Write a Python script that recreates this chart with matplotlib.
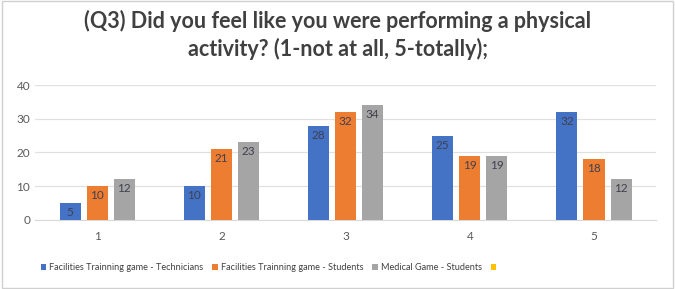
import numpy as np
import matplotlib.pyplot as plt
from matplotlib.patches import Patch, Rectangle

# ==============================
# Data
# ==============================
categories = ["1", "2", "3", "4", "5"]
series_names = ["Facilities Trainning game - Technicians",
                "Facilities Trainning game - Students",
                "Medical Game - Students",
                ""]
technicians = [5, 10, 28, 25, 32]
students = [10, 21, 32, 19, 18]
medical = [12, 23, 34, 19, 12]
colors = ["#4472C4", "#ED7D31", "#A5A5A5", "#FFC000"]

title = "(Q3) Did you feel like you were performing a physical\nactivity? (1-not at all, 5-totally);"

# ==============================
# Plot
# ==============================
plt.rcParams['font.family'] = ['Lato', 'DejaVu Sans']
fig = plt.figure(figsize=(6.75, 2.89), dpi=100)
ax = fig.add_axes([0.052, 0.24, 0.92, 0.465])

x = np.arange(1, len(categories) + 1)
width = 0.17
offset = 0.218
series = [technicians, students, medical]
for i, vals in enumerate(series):
    pos = x + (i - 1) * offset
    bars = ax.bar(pos, vals, width, color=colors[i], zorder=3)
    for b, v in zip(bars, vals):
        ax.text(b.get_x() + b.get_width() / 2, v - 1.2, str(v),
                ha="center", va="top", fontsize=8.5, color="#404050", zorder=4)

ax.set_xlim(0.5, 5.5)
ax.set_ylim(0, 40)
ax.set_yticks([0, 10, 20, 30, 40])
ax.set_xticks(x)
ax.set_xticklabels(categories)
ax.tick_params(length=0, labelsize=8.5, colors="#595959")
ax.tick_params(axis="x", pad=8)
ax.grid(axis="y", color="#E0E0E0", linewidth=0.9, zorder=0)
for s in ["top", "right", "left"]:
    ax.spines[s].set_visible(False)
ax.spines["bottom"].set_color("#D9D9D9")

fig.text(0.5, 0.965, title, ha="center", va="top", fontsize=15.5,
         fontweight="bold", color="#404040", linespacing=1.3)

handles = [Patch(facecolor=c) for c in colors]
fig.legend(handles, series_names, loc="center", bbox_to_anchor=(0.4, 0.075),
           ncol=4, frameon=False, fontsize=6.6, handlelength=0.6, handleheight=0.6,
           handletextpad=0.3, columnspacing=1.0, labelcolor="#404040")

fig.patches.append(Rectangle((0.003, 0.005), 0.994, 0.99, transform=fig.transFigure,
                             fill=False, edgecolor="#D0D0D0", linewidth=1))

fig.savefig("out.png", dpi=100, facecolor="white")
